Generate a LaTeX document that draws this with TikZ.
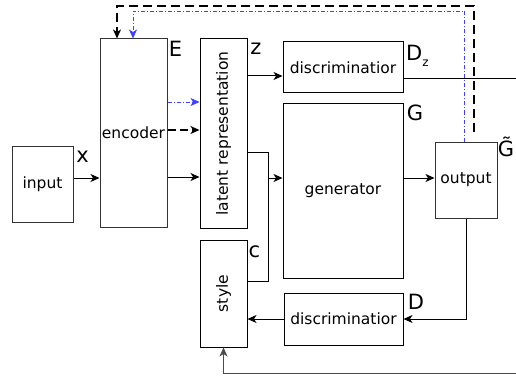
\documentclass[tikz,border=0pt]{standalone}
\usepackage{fontspec}
\setmainfont{DejaVu Sans}
\usetikzlibrary{arrows.meta}
\begin{document}
\begin{tikzpicture}[x=1pt,y=-1pt,
  box/.style={draw=black!80,line width=1pt,inner sep=0pt,font=\fontsize{15.5}{18}\selectfont},
  lbl/.style={inner sep=0pt,font=\fontsize{21}{24}\selectfont},
  conn/.style={line width=1pt},
  arr/.style={line width=1pt,-{Stealth[length=9pt,width=8pt,inset=2.5pt]}},
  bdash/.style={line width=2pt,dash pattern=on 9pt off 5pt,-{Stealth[length=9pt,width=8pt,inset=2.5pt]}},
  bdot/.style={blue!75,line width=0.8pt,dash pattern=on 4pt off 2pt on 1pt off 2pt,-{Stealth[length=9pt,width=8pt,inset=2.5pt]}}]
\useasboundingbox (0,0) rectangle (516,377);
% boxes
\node[box,minimum width=61pt,minimum height=76pt] (in) at (42.5,184) {input};
\node[box,minimum width=67pt,minimum height=188pt] (enc) at (133.5,133) {encoder};
\node[box,draw=black,minimum width=47pt,minimum height=189pt] (lat) at (223.5,133.5) {\rotatebox{90}{latent representation}};
\node[box,draw=black,minimum width=47pt,minimum height=107pt] (sty) at (223.5,293.5) {\rotatebox{90}{style}};
\node[box,draw=black,minimum width=120pt,minimum height=51pt] (dz) at (343,67.5) {discriminatior};
\node[box,draw=black,minimum width=120pt,minimum height=174pt] (gen) at (343,191) {generator};
\node[box,minimum width=62pt,minimum height=76pt] (out) at (466,180) {output};
\node[box,draw=black,minimum width=119pt,minimum height=52pt] (dd) at (343.5,319) {discriminatior};
% labels
\node[lbl] (lE) at (175.5,49) {E};
\node[lbl] (lz) at (256,49) {z};
\node[lbl] (lx) at (82.5,157) {x};
\node[lbl] (lc) at (254.5,252) {c};
\node[lbl,anchor=west] (lDz) at (406,56) {D\raisebox{-6pt}{\fontsize{12}{14}\selectfont z}};
\node[lbl] (lG) at (415,113) {G};
\node[lbl] (lGt) at (506,147) {\~{G}};
\node[lbl] (lD) at (416,302) {D};
% coordinates
\coordinate (j) at (268,178);
\coordinate (rightA) at (516,79);
\coordinate (rightB) at (516,373);
\coordinate (fbk) at (474,132);
% connectors
\draw[arr] (in.east |- 0,178) -- (enc.west |- 0,178);
\draw[bdot] (enc.east |- 0,102) -- (lat.west |- 0,102);
\draw[bdash,line width=1.6pt,dash pattern=on 8pt off 4pt] (enc.east |- 0,130) -- (lat.west |- 0,130);
\draw[arr] (enc.east |- 0,177) -- (lat.west |- 0,177);
\draw[arr] (lat.east |- 0,76) -- (dz.west |- 0,76);
\draw[conn] (lat.east |- 0,152) -- (268,152) -- (268,281) -- (sty.east |- 0,281);
\draw[arr] (j) -- (gen.west |- j);
\draw[arr] (gen.east |- 0,178) -- (out.west |- 0,178);
\draw[conn] (dz.east |- rightA) -- (rightA);
\draw[arr] (out.south) |- (dd.east);
\draw[arr] (dd.west) -- (sty.east |- dd.west);
\draw[arr,black!70] (rightB) -| (sty.south);
\draw[bdash] (fbk) -- (474,6) -- (117,6) -- (enc.north -| 117,0);
\draw[bdot] (out.north -| 464,0) -- (464,11) -- (133,11) -- (enc.north -| 133,0);
\end{tikzpicture}
\end{document}
